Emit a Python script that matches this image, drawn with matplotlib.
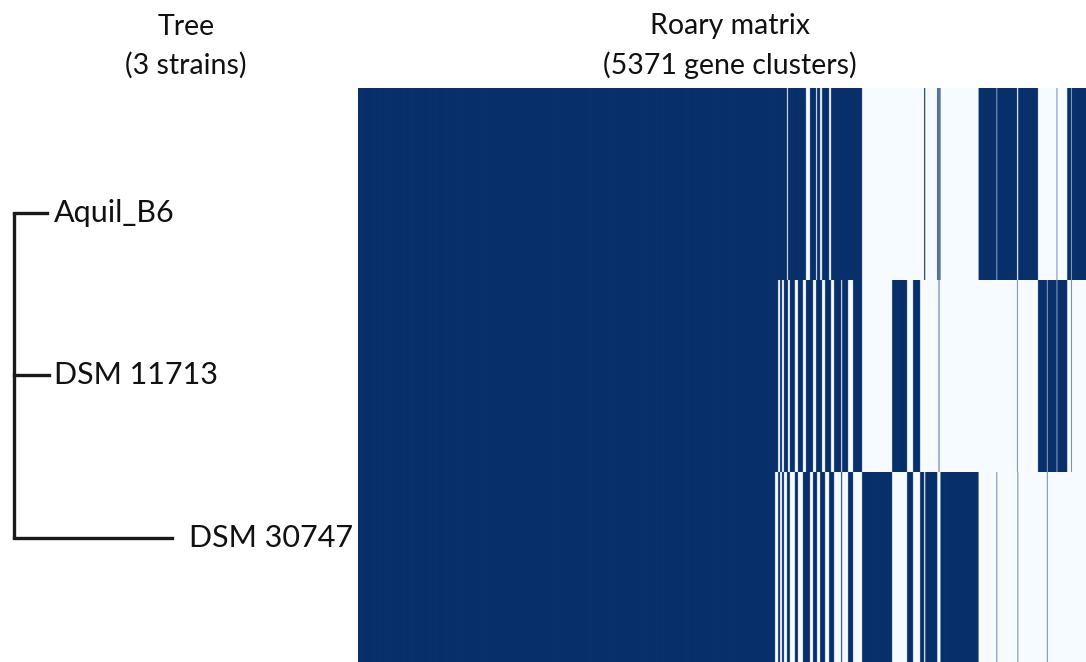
import numpy as np
import matplotlib.pyplot as plt

plt.rcParams['font.family'] = ['Lato', 'DejaVu Sans']

strains = ['Aquil_B6', 'DSM 11713', 'DSM 30747']
branch_len = [0.21, 0.22, 1.0]   # tree branch lengths (relative)
n_clusters = 5371

# presence (1) / absence (0) in Aquil_B6, DSM 11713, DSM 30747
patterns = {
    'core': (1, 1, 1),
    'A+D1': (1, 1, 0),
    'A+D3': (1, 0, 1),
    'D1+D3': (0, 1, 1),
    'A': (1, 0, 0),
    'D1': (0, 1, 0),
    'D3': (0, 0, 1),
}

# runs of gene clusters in the sorted roary matrix, left to right
run_pattern = ['core',
               'A+D1', 'A+D3', 'A+D1', 'A+D3', 'A+D1', 'D1+D3', 'A+D3', 'A+D1',
               'A+D3', 'A+D1', 'A+D3', 'D1+D3', 'A+D1', 'A+D3', 'D1+D3', 'A+D1',
               'D1+D3', 'A+D3', 'A+D1', 'D1+D3', 'A+D3', 'A+D1', 'A+D3', 'A+D1',
               'A+D3', 'A+D1',
               'D3', 'D1', 'D3', 'D1', 'D3', 'A', 'D3', 'A', 'D1', 'A', 'D3',
               'A', 'D3', 'A', 'D1', 'D3', 'A', 'D1', 'D3', 'D1', 'A', 'D1',
               'A', 'D1', 'A']
run_size = [3011,
            22, 14, 14, 14, 22, 7, 14, 36,
            22, 36, 22, 29, 22, 22, 7, 22,
            14, 22, 29, 14, 22, 51, 7, 43,
            36, 65,
            217, 108, 43, 51, 29, 8, 87, 10, 5, 8, 275,
            130, 4, 144, 4, 4, 143, 65, 4, 66, 4, 72,
            29, 4, 218]

# build the strains x clusters matrix
cols = np.repeat(np.array([patterns[p] for p in run_pattern]), run_size, axis=0)
matrix = cols.T

W, H = 1086, 662
fig = plt.figure(figsize=(W / 100, H / 100), dpi=100)

top, bottom = 88, 664
ax_h = (bottom - top) / H
ax_y = 1 - bottom / H

# tree panel
ax_tree = fig.add_axes([14 / W, ax_y, 344 / W, ax_h])
leaf_y = [1, 2, 3]
ax_tree.vlines(0, leaf_y[0], leaf_y[-1], color='#1a1a1a', lw=2.4, clip_on=False)
for y, bl in zip(leaf_y, branch_len):
    ax_tree.hlines(y, 0, bl, color='#1a1a1a', lw=2.4, clip_on=False,
                   capstyle='projecting')
label_pad = [7, 5, 17]
for y, bl, name, pad in zip(leaf_y, branch_len, strains, label_pad):
    ax_tree.annotate(name, (bl, y), xytext=(pad, 0), textcoords='offset pixels',
                     va='center', ha='left', fontsize=22, color='#111111')
ax_tree.set_xlim(0, 2.177)
ax_tree.set_ylim(3.776, 0.231)
ax_tree.axis('off')
ax_tree.set_title('Tree\n(%d strains)' % len(strains), fontsize=20.5, pad=10,
                  color='#111111', linespacing=1.55)

# roary matrix panel
# stretch each strain row so the image is not blurred vertically
tall = np.repeat(matrix, (bottom - top) // len(strains), axis=0)
ax_mat = fig.add_axes([358 / W, ax_y, 744 / W, ax_h])
ax_mat.imshow(tall, cmap='Blues', vmin=0, vmax=1, aspect='auto',
              interpolation='auto', interpolation_stage='rgba')
ax_mat.axis('off')
ax_mat.set_title('Roary matrix\n(%d gene clusters)' % n_clusters, fontsize=20.5,
                 pad=10, color='#111111', linespacing=1.55)

fig.savefig('out.png', dpi=100)
